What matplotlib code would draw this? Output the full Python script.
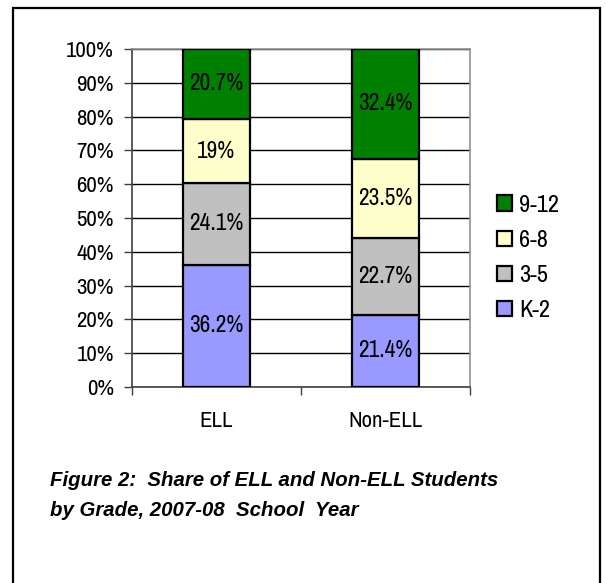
import matplotlib
matplotlib.use("Agg")
import matplotlib.pyplot as plt
from matplotlib.patches import Rectangle, Patch

# narrow grotesque if present, otherwise Liberation Sans
plt.rcParams["font.family"] = ["Archivo Narrow", "Liberation Sans", "DejaVu Sans"]

groups = ["ELL", "Non-ELL"]
grades = ["K-2", "3-5", "6-8", "9-12"]
ell = [36.2, 24.1, 19, 20.7]
non_ell = [21.4, 22.7, 23.5, 32.4]
colors = ["#9999FF", "#C0C0C0", "#FFFFCC", "#008000"]
ytick_vals = list(range(0, 101, 10))

W, H = 606, 583
fig = plt.figure(figsize=(W / 100, H / 100), dpi=100)

# outer frame
fig.patches.append(Rectangle((13 / W, -0.05), (600 - 13) / W, 1.05 - 8 / H,
                             transform=fig.transFigure, fill=False,
                             edgecolor="black", lw=1.6))

ax = fig.add_axes([132 / W, 1 - 387 / H, (470 - 132) / W, (387 - 49) / H])
ax.set_axisbelow(True)

x = [0, 1]
bottoms = [0.0, 0.0]
for gi, g in enumerate(grades):
    vals = [ell[gi], non_ell[gi]]
    ax.bar(x, vals, width=0.40, bottom=bottoms, color=colors[gi],
           edgecolor="black", lw=1.6, label=g, zorder=3)
    for xi, v, b in zip(x, vals, bottoms):
        ax.text(xi, b + v / 2, f"{v:g}%", ha="center", va="center",
                fontsize=16.8, zorder=4)
    bottoms = [b + v for b, v in zip(bottoms, vals)]

ax.set_xlim(-0.5, 1.5)
ax.set_ylim(0, 100)
ax.set_yticks(ytick_vals)
ax.set_yticklabels([f"{v}%" for v in ytick_vals], fontsize=16.5)
ax.tick_params(axis="y", length=6, width=1, pad=7, color="#404040")
ax.set_xticks(x)
ax.set_xticklabels(groups, fontsize=16.5)
ax.tick_params(axis="x", length=0, pad=17)
ax.set_xticks([-0.5, 0.5, 1.5], minor=True)
ax.tick_params(axis="x", which="minor", length=6, width=1, color="#404040")
ax.yaxis.grid(True, color="black", lw=1)

ax.spines["top"].set_color("#909090")
ax.spines["right"].set_color("#909090")
ax.spines["left"].set_color("#404040")
ax.spines["bottom"].set_color("#404040")
for s in ax.spines.values():
    s.set_linewidth(1.2)

handles = [Patch(facecolor=colors[i], edgecolor="black", lw=1.6, label=grades[i])
           for i in range(3, -1, -1)]
fig.legend(handles=handles, loc="center left", bbox_to_anchor=(497 / W, 1 - 258 / H),
           frameon=False, fontsize=17.5, borderpad=0, borderaxespad=0,
           handlelength=0.62, handleheight=0.62, handletextpad=0.3,
           labelspacing=0.58)

cap = dict(fontsize=14.7, fontweight="bold", fontstyle="italic",
           family=["Liberation Sans", "DejaVu Sans"], va="center", ha="left")
fig.text(50 / W, 1 - 480 / H, "Figure 2:  Share of ELL and Non-ELL Students", **cap)
fig.text(50 / W, 1 - 511 / H, "by Grade, 2007-08  School  Year", **cap)

fig.savefig("out.png", dpi=100)
